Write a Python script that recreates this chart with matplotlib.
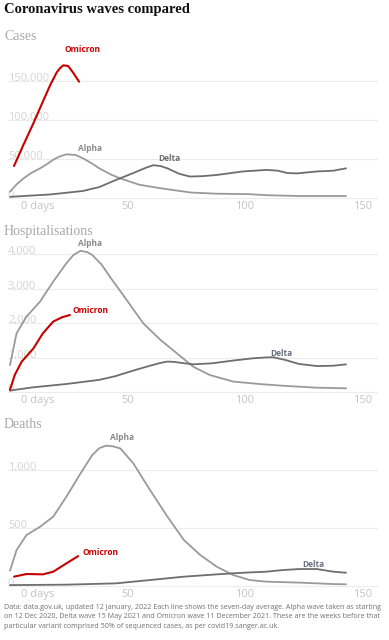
import numpy as np
import matplotlib
matplotlib.use("Agg")
import matplotlib.pyplot as plt
import matplotlib.transforms as mtransforms

# ---- data (days since wave start, seven-day averages) ----
cases_alpha_x = [0, 3, 5.7, 9, 12.8, 16, 18.4, 21, 24, 28, 31, 35, 38, 43, 47, 55, 64, 77, 88, 101, 110, 124, 143]
cases_alpha_y = [8000, 18000, 25000, 32000, 38000, 44000, 49000, 53000, 56000, 55000, 51000, 44000, 38000, 30000, 25000, 17000, 12500, 7000, 5500, 5000, 3500, 2500, 2500]
cases_delta_x = [0, 17, 31, 38, 45, 52.5, 58, 61, 64, 67, 72, 76.6, 82, 88, 99, 109, 114, 118, 122, 130.6, 137.6, 143]
cases_delta_y = [1500, 4500, 9000, 14000, 23000, 32000, 39000, 42000, 41000, 38000, 31000, 27500, 28000, 29500, 34000, 36000, 35000, 32000, 31500, 34000, 35000, 38000]
cases_omicron_x = [1.7, 5.7, 10, 14.2, 17, 19.9, 21.5, 22.7, 24.8, 27, 29.4]
cases_omicron_y = [41000, 68000, 96000, 125000, 144000, 161000, 167000, 170000, 169000, 160000, 149000]

hosp_alpha_x = [0, 2.8, 7, 12.8, 18.4, 24, 27, 30, 33, 35, 39, 42.5, 49.6, 56.7, 64, 71, 78, 85, 95, 106, 116, 130, 143]
hosp_alpha_y = [790, 1710, 2190, 2630, 3210, 3740, 3980, 4100, 4060, 3980, 3700, 3350, 2680, 2000, 1520, 1130, 740, 500, 310, 240, 190, 135, 115]
hosp_delta_x = [0, 10, 24, 38, 45, 52.5, 59.6, 64, 67, 70, 72, 78, 86, 95, 103.4, 109, 112, 117, 123, 130.6, 137.6, 143]
hosp_delta_y = [50, 145, 240, 360, 470, 630, 770, 850, 890, 880, 860, 810, 840, 920, 985, 1010, 1015, 940, 820, 760, 770, 810]
hosp_omicron_x = [0, 2, 5, 10, 14, 18.4, 22, 25.5]
hosp_omicron_y = [70, 500, 890, 1275, 1710, 2050, 2170, 2240]

deaths_alpha_x = [0, 2.8, 7, 12.8, 18.4, 24, 30, 35, 38, 41, 44, 47, 52.5, 59.6, 67, 74, 81, 88, 95, 102, 109, 124, 137.6, 143]
deaths_alpha_y = [130, 308, 438, 510, 597, 770, 971, 1130, 1190, 1212, 1205, 1187, 1058, 827, 597, 395, 265, 164, 92, 49, 35, 26, 14, 12]
deaths_delta_x = [0, 24, 45, 59.6, 74, 88, 95, 102, 109, 116, 123, 130.6, 137.6, 143]
deaths_delta_y = [5, 9, 20, 49, 78, 98, 107, 115, 121, 135, 144, 144, 121, 112]
deaths_omicron_x = [1.7, 7, 14, 18.4, 24, 29]
deaths_omicron_y = [78, 101, 98, 121, 193, 256]

panel_titles = ["Cases", "Hospitalisations", "Deaths"]
y_ticks = [[0, 50000, 100000, 150000], [0, 1000, 2000, 3000, 4000], [0, 500, 1000]]
x_ticks = [50, 100, 150]

RED = "#c70000"
ALPHA_C = "#9a9a9a"
DELTA_C = "#6e6e6e"
SANS = "Open Sans"

fig = plt.figure(figsize=(3.89, 6.4), dpi=100)
W, H = 389, 640

def px_axes(left, top, right, bottom):
    return fig.add_axes([left / W, 1 - bottom / H, (right - left) / W, (bottom - top) / H])

panels = [
    dict(box=(8, 45, 378, 200), ylim=(-2560, 196000),
         series=[(cases_alpha_x, cases_alpha_y, ALPHA_C, 1.3),
                 (cases_delta_x, cases_delta_y, DELTA_C, 1.3),
                 (cases_omicron_x, cases_omicron_y, RED, 1.5)],
         labels=[("Omicron", 31, 190000, RED, "center"),
                 ("Alpha", 34, 64000, "#8a8a8a", "center"),
                 ("Delta", 67.7, 51000, "#6e6e6e", "center")],
         title_y=37),
    dict(box=(8, 238, 378, 394), ylim=(-50, 4472),
         series=[(hosp_alpha_x, hosp_alpha_y, ALPHA_C, 1.3),
                 (hosp_delta_x, hosp_delta_y, DELTA_C, 1.3),
                 (hosp_omicron_x, hosp_omicron_y, RED, 1.5)],
         labels=[("Alpha", 34, 4300, "#8a8a8a", "center"),
                 ("Omicron", 26.8, 2365, RED, "left"),
                 ("Delta", 115.6, 1110, "#6b7280", "center")],
         title_y=231),
    dict(box=(8, 430, 378, 588), ylim=(-20, 1347),
         series=[(deaths_alpha_x, deaths_alpha_y, ALPHA_C, 1.3),
                 (deaths_delta_x, deaths_delta_y, DELTA_C, 1.3),
                 (deaths_omicron_x, deaths_omicron_y, RED, 1.5)],
         labels=[("Alpha", 47.5, 1286, "#8a8a8a", "center"),
                 ("Omicron", 31, 283, RED, "left"),
                 ("Delta", 129, 179, "#6b7280", "center")],
         title_y=425),
]

for p, title, yt in zip(panels, panel_titles, y_ticks):
    ax = px_axes(*p["box"])
    ax.set_xlim(-0.85, 156.6)
    ax.set_ylim(*p["ylim"])
    for s in ax.spines.values():
        s.set_visible(False)
    ax.set_yticks(yt)
    ax.set_yticklabels([])
    ax.tick_params(axis="y", length=0)
    ax.grid(axis="y", color="#ececec", lw=0.8, zorder=0)
    ax.set_axisbelow(True)
    ax.set_xticks(x_ticks)
    ax.set_xticklabels([str(t) for t in x_ticks], fontsize=8, color="#c4c4c4", family=SANS)
    ax.tick_params(axis="x", length=0, pad=1)
    ax.annotate("0 days", xy=(0, 0), xycoords=("data", "axes fraction"),
                xytext=(8, -1), textcoords="offset points", ha="left", va="top",
                fontsize=8, color="#c4c4c4", family=SANS)
    # y labels sit on the gridlines
    ytr = mtransforms.blended_transform_factory(ax.transAxes, ax.transData)
    for v in yt:
        ax.text(0.0, v, f"{v:,}", transform=ytr, ha="left", va="baseline",
                fontsize=8, color="#d4d4d4", family=SANS, zorder=1)
    for xs, ys, c, lw in p["series"]:
        ax.plot(xs, ys, color=c, lw=lw, solid_joinstyle="round",
                solid_capstyle="round", zorder=3)
    for txt, x, y, c, ha in p["labels"]:
        ax.text(x, y, txt, color=c, fontsize=6, fontweight="bold", family=SANS,
                ha=ha, va="center", zorder=4)
    fig.text(4 / W, 1 - p["title_y"] / H, title, fontsize=10, color="#a8a8a8",
             family="Liberation Serif", va="center", ha="left")

fig.text(4 / W, 1 - 10 / H, "Coronavirus waves compared", fontsize=10.5,
         fontweight="bold", family="Liberation Serif", color="#121212",
         va="center", ha="left")

footer = ("Data: data.gov.uk, updated 12 January, 2022 Each line shows the seven-day average. Alpha wave taken as starting\n"
          "on 12 Dec 2020, Delta wave 15 May 2021 and Omicron wave 11 December 2021. These are the weeks before that\n"
          "particular variant comprised 50% of sequenced cases, as per covid19.sanger.ac.uk.")
fig.text(4 / W, 1 - 604 / H, footer, fontsize=5.1, color="#707070", family=SANS,
         va="top", ha="left", linespacing=1.45)

fig.savefig("out.png", dpi=100, facecolor="white")
